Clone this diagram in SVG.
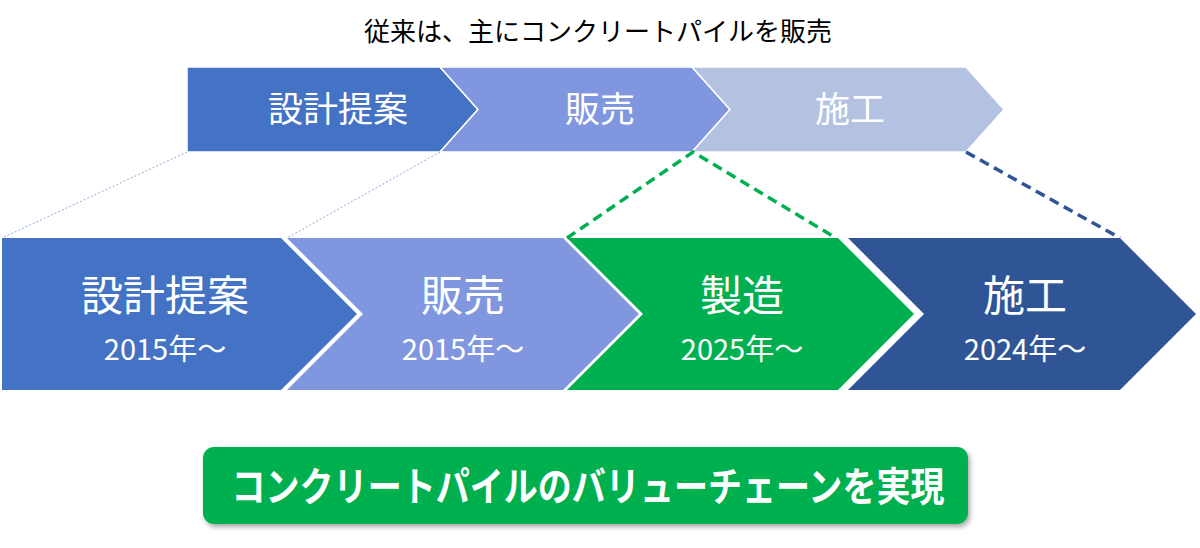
<svg xmlns="http://www.w3.org/2000/svg" width="1200" height="548" viewBox="0 0 1200 548">
<style>
text{font-family:"Noto Sans CJK JP","Noto Sans",sans-serif;fill:#fff;text-anchor:middle}
.title{fill:#000;font-size:26px}
.top{font-size:35px}
.big{font-size:42px}
.yr{font-size:29px}
.btn{font-size:40px;font-weight:bold}
.sep{stroke:#fff;stroke-width:1.5}
</style>
<defs>
<filter id="sh" x="-5%" y="-20%" width="110%" height="150%">
<feDropShadow dx="2" dy="3" stdDeviation="2.5" flood-color="#000" flood-opacity="0.35"/>
</filter>
</defs>
<text class="title" x="598" y="41">従来は、主にコンクリートパイルを販売</text>
<g id="top1"><polygon class="sep" fill="#4472C4" points="187,67 440,67 478,109.5 440,152 187,152"/><text class="top" x="338" y="122">設計提案</text></g>
<g id="top2"><polygon class="sep" fill="#8097DF" points="440,67 692,67 730,109.5 692,152 440,152 478,109.5"/><text class="top" x="600" y="122">販売</text></g>
<g id="top3"><polygon class="sep" fill="#B4C2E2" points="692,67 966,67 1004,109.5 966,152 692,152 730,109.5"/><text class="top" x="850" y="122">施工</text></g>
<g id="connectors" fill="none">
<line x1="187" y1="152" x2="2" y2="238" stroke="#8FAADC" stroke-width="1" stroke-dasharray="2,2"/>
<line x1="440" y1="152" x2="287" y2="238" stroke="#8FAADC" stroke-width="1" stroke-dasharray="2,2"/>
<polyline points="567,238 693,152 836,238" stroke="#00B050" stroke-width="3.5" stroke-dasharray="10,6"/>
<line x1="966" y1="152" x2="1120" y2="238" stroke="#2F5597" stroke-width="3.5" stroke-dasharray="10,6"/>
</g>
<g id="c1"><polygon fill="#4472C4" points="2,238 281,238 357,314 281,390 2,390"/><text class="big" x="165" y="311">設計提案</text><text class="yr" x="165" y="360">2015年～</text></g>
<g id="c2"><polygon fill="#8097DF" points="287,238 563,238 639,314 563,390 287,390 363,314"/><text class="big" x="463" y="311">販売</text><text class="yr" x="463" y="360">2015年～</text></g>
<g id="c3"><polygon fill="#00B050" points="567,238 838,238 914,314 838,390 567,390 643,314"/><text class="big" x="742" y="311">製造</text><text class="yr" x="742" y="360">2025年～</text></g>
<g id="c4"><polygon fill="#2F5597" points="848,238 1120,238 1196,314 1120,390 848,390 924,314"/><text class="big" x="1025" y="311">施工</text><text class="yr" x="1025" y="360">2024年～</text></g>
<g id="banner"><rect x="203" y="447" width="765" height="77" rx="11" fill="#00B050" filter="url(#sh)"/><text class="btn" x="588" y="501" textLength="713" lengthAdjust="spacingAndGlyphs">コンクリートパイルのバリューチェーンを実現</text></g>
</svg>
